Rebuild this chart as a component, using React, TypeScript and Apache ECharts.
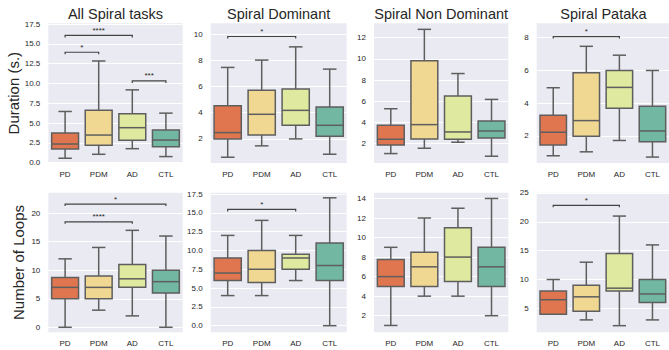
import React, { useEffect, useRef } from "react";
import * as echarts from "echarts";

const categories = ["PD", "PDM", "AD", "CTL"];
const titles = ["All Spiral tasks", "Spiral Dominant", "Spiral Non Dominant", "Spiral Pataka"];
const rowNames = ["Duration (s.)", "Number of Loops"];

// [min, Q1, median, Q3, max] per category
const durAll = [[0.55, 1.72, 2.35, 3.74, 6.46], [1.05, 2.18, 3.48, 6.63, 12.84], [1.76, 2.81, 4.41, 6.17, 9.19], [0.76, 2.01, 2.85, 4.11, 6.25]];
const durDom = [[0.6, 2.0, 2.48, 4.54, 7.46], [1.47, 2.3, 3.88, 5.71, 8.02], [2.0, 3.04, 4.18, 5.81, 9.03], [0.83, 2.2, 3.04, 4.44, 7.33]];
const durNonDom = [[1.06, 1.87, 2.41, 3.72, 5.29], [1.56, 2.44, 3.79, 9.81, 12.78], [2.13, 2.41, 3.1, 6.48, 8.61], [0.81, 2.53, 3.19, 4.13, 6.17]];
const durPataka = [[0.79, 1.45, 2.22, 3.25, 4.93], [1.03, 1.98, 2.93, 5.84, 7.45], [1.72, 3.68, 4.95, 5.98, 6.91], [0.71, 1.64, 2.3, 3.8, 5.98]];
const loopsAll = [[0, 5, 7, 8.75, 12], [3, 5, 7, 9, 14], [2, 7, 8.5, 11, 17], [0, 6, 8, 10, 16]];
const loopsDom = [[4, 6, 7, 9, 12], [4, 5.75, 7.5, 10, 14], [6, 7.5, 9, 9.5, 12], [0, 6, 8, 11, 17]];
const loopsNonDom = [[1, 5, 6, 7.75, 9], [4, 5, 7, 8.5, 12], [4, 5.5, 8, 11, 13], [2, 5, 7, 9, 14]];
const loopsPataka = [[4, 4, 6.5, 8, 10], [3, 4.5, 7, 9, 13], [2, 8, 8.5, 14.5, 21], [3, 6, 7.5, 10, 16]];

// significance brackets: [fromCategory, toCategory, y, label]
const sigDurAll: [number, number, number, string][] = [[0, 2, 16.07, "****"], [0, 1, 13.94, "*"], [2, 3, 10.32, "***"]];
const sigDurDom: [number, number, number, string][] = [[0, 2, 9.82, "*"]];
const sigDurNonDom: [number, number, number, string][] = [];
const sigDurPataka: [number, number, number, string][] = [[0, 2, 8.04, "*"]];
const sigLoopsAll: [number, number, number, string][] = [[0, 3, 21.6, "*"], [0, 2, 18.5, "****"]];
const sigLoopsDom: [number, number, number, string][] = [[0, 2, 15.46, "*"]];
const sigLoopsNonDom: [number, number, number, string][] = [];
const sigLoopsPataka: [number, number, number, string][] = [[0, 2, 22.87, "*"]];

// y tick labels
const ticksDurAll = [0, 2.5, 5, 7.5, 10, 12.5, 15, 17.5];
const ticksDurDom = [2, 4, 6, 8, 10];
const ticksDurNonDom = [2, 4, 6, 8, 10, 12];
const ticksDurPataka = [2, 4, 6, 8];
const ticksLoopsAll = [0, 5, 10, 15, 20];
const ticksLoopsDom = [0, 2.5, 5, 7.5, 10, 12.5, 15, 17.5];
const ticksLoopsNonDom = [2, 4, 6, 8, 10, 12, 14];
const ticksLoopsPataka = [5, 10, 15, 20, 25];

const FONT = "Liberation Sans, Arial, sans-serif";
const COLORS = ["#e0764f", "#f0d893", "#dfe99f", "#71b7a1"];
const EDGE = "#5e5e5e";
const TXT = "#262626";

const panels = [
  { data: durAll, sig: sigDurAll, ticks: ticksDurAll, min: -0.05, max: 17.6, dec: 1 },
  { data: durDom, sig: sigDurDom, ticks: ticksDurDom, min: 0.16, max: 10.83, dec: 0 },
  { data: durNonDom, sig: sigDurNonDom, ticks: ticksDurNonDom, min: 0.17, max: 13.35, dec: 0 },
  { data: durPataka, sig: sigDurPataka, ticks: ticksDurPataka, min: 0.35, max: 8.85, dec: 0 },
  { data: loopsAll, sig: sigLoopsAll, ticks: ticksLoopsAll, min: -0.88, max: 23.6, dec: 0 },
  { data: loopsDom, sig: sigLoopsDom, ticks: ticksLoopsDom, min: -0.88, max: 17.68, dec: 1 },
  { data: loopsNonDom, sig: sigLoopsNonDom, ticks: ticksLoopsNonDom, min: 0.3, max: 14.59, dec: 0 },
  { data: loopsPataka, sig: sigLoopsPataka, ticks: ticksLoopsPataka, min: 0.85, max: 25.05, dec: 0 },
];

const colLeft = [48.3, 210.7, 374, 536.7];
const colWidth = [134.4, 136, 134.3, 133.5];
const rowTop = [23.3, 192.7];
const rowHeight = [139.7, 139.6];

export default function App() {
  const ref = useRef<HTMLDivElement>(null);
  useEffect(() => {
    if (!ref.current) return;
    const chart = echarts.init(ref.current, null, { renderer: "svg" });
    const grid: any[] = [];
    const xAxis: any[] = [];
    const yAxis: any[] = [];
    const series: any[] = [];
    const graphic: any[] = [];
    panels.forEach((p, i) => {
      const r = Math.floor(i / 4);
      const c = i % 4;
      grid.push({
        left: colLeft[c], top: rowTop[r], width: colWidth[c], height: rowHeight[r],
        show: true, backgroundColor: "#eaeaf2", borderWidth: 0,
      });
      xAxis.push({
        type: "category", gridIndex: i, data: categories,
        axisLine: { show: false }, axisTick: { show: false }, splitLine: { show: false },
        axisLabel: { fontSize: 8, color: TXT, margin: 7, fontFamily: FONT },
      });
      yAxis.push({
        type: "value", gridIndex: i, min: p.min, max: p.max,
        axisLine: { show: false },
        axisTick: { show: false, customValues: p.ticks },
        axisLabel: {
          customValues: p.ticks, fontSize: 8, color: TXT, margin: 8, fontFamily: FONT,
          formatter: (v: number) => v.toFixed(p.dec),
        },
        splitLine: { show: true, lineStyle: { color: "#ffffff", width: 1 } },
        name: c === 0 ? rowNames[r] : "",
        nameLocation: "middle",
        nameGap: r === 0 ? 25 : 22,
        nameTextStyle: { fontSize: 15, color: TXT, fontFamily: FONT },
      });
      series.push({
        type: "custom", xAxisIndex: i, yAxisIndex: i, z: 3, clip: false,
        data: p.data.map((d, j) => [j, ...d]),
        encode: { x: 0, y: [1, 2, 3, 4, 5] },
        renderItem: (params: any, api: any) => {
          const x = api.value(0);
          const lo = api.coord([x, api.value(1)]);
          const q1 = api.coord([x, api.value(2)]);
          const md = api.coord([x, api.value(3)]);
          const q3 = api.coord([x, api.value(4)]);
          const hi = api.coord([x, api.value(5)]);
          const bw = api.size([1, 0])[0];
          const boxW = bw * 0.8;
          const capW = bw * 0.4;
          const cx = lo[0];
          const ls = { stroke: EDGE, lineWidth: 1.5 };
          return {
            type: "group",
            children: [
              { type: "line", shape: { x1: cx, y1: q1[1], x2: cx, y2: lo[1] }, style: ls },
              { type: "line", shape: { x1: cx, y1: q3[1], x2: cx, y2: hi[1] }, style: ls },
              { type: "line", shape: { x1: cx - capW / 2, y1: lo[1], x2: cx + capW / 2, y2: lo[1] }, style: ls },
              { type: "line", shape: { x1: cx - capW / 2, y1: hi[1], x2: cx + capW / 2, y2: hi[1] }, style: ls },
              {
                type: "rect",
                shape: { x: cx - boxW / 2, y: q3[1], width: boxW, height: q1[1] - q3[1] },
                style: { fill: COLORS[params.dataIndex], stroke: EDGE, lineWidth: 1.5 },
              },
              { type: "line", shape: { x1: cx - boxW / 2, y1: md[1], x2: cx + boxW / 2, y2: md[1] }, style: ls },
            ],
          };
        },
      });
      if (p.sig.length) {
        series.push({
          type: "custom", xAxisIndex: i, yAxisIndex: i, z: 4, clip: false,
          data: p.sig.map((s) => [s[0], s[1], s[2]]),
          encode: { x: [0, 1], y: 2 },
          renderItem: (params: any, api: any) => {
            const a = api.coord([api.value(0), api.value(2)]);
            const b = api.coord([api.value(1), api.value(2)]);
            const leg = 2;
            return {
              type: "group",
              children: [
                {
                  type: "polyline",
                  shape: { points: [[a[0], a[1] + leg], [a[0], a[1]], [b[0], b[1]], [b[0], b[1] + leg]] },
                  style: { stroke: "#444444", lineWidth: 1.2, fill: null },
                },
                {
                  type: "text",
                  x: (a[0] + b[0]) / 2, y: a[1] - 1,
                  style: {
                    text: p.sig[params.dataIndex][3], fill: TXT, font: `8px ${FONT}`,
                    textAlign: "center", textVerticalAlign: "bottom",
                  },
                },
              ],
            };
          },
        });
      }
      if (r === 0) {
        graphic.push({
          type: "text",
          x: colLeft[c] + colWidth[c] / 2, y: 14,
          style: {
            text: titles[c], fill: TXT, font: `14.5px ${FONT}`,
            textAlign: "center", textVerticalAlign: "middle",
          },
        });
      }
    });
    chart.setOption({
      animation: false,
      backgroundColor: "#ffffff",
      grid, xAxis, yAxis, series, graphic,
    });
    return () => chart.dispose();
  }, []);
  return <div ref={ref} style={{ position: "fixed", left: 0, top: 0, width: 669, height: 350 }} />;
}
